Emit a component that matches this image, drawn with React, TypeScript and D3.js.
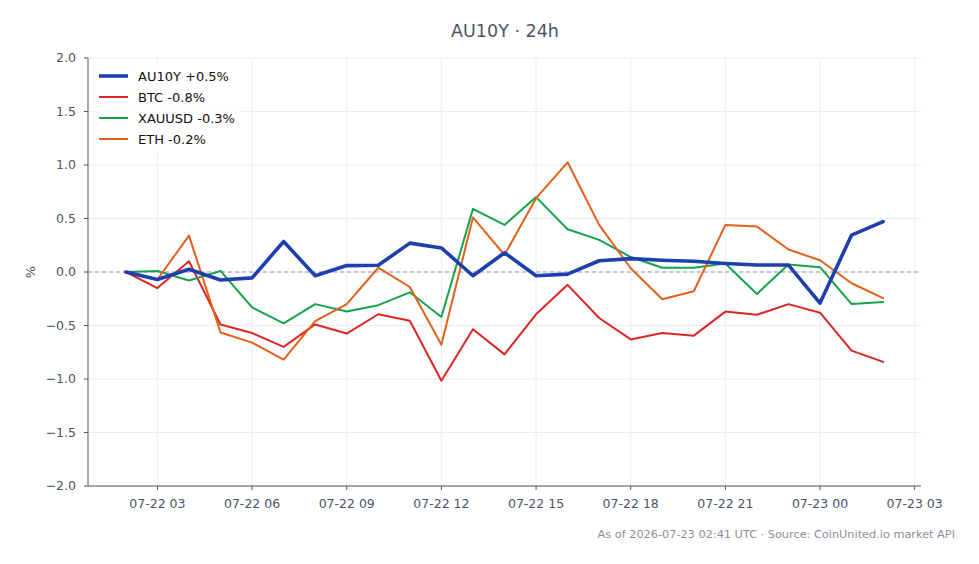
import React from "react";
import * as d3 from "d3";

const hours: string[] = [
  "2026-07-22T02:00", "2026-07-22T03:00", "2026-07-22T04:00", "2026-07-22T05:00", "2026-07-22T06:00",
  "2026-07-22T07:00", "2026-07-22T08:00", "2026-07-22T09:00", "2026-07-22T10:00", "2026-07-22T11:00",
  "2026-07-22T12:00", "2026-07-22T13:00", "2026-07-22T14:00", "2026-07-22T15:00", "2026-07-22T16:00",
  "2026-07-22T17:00", "2026-07-22T18:00", "2026-07-22T19:00", "2026-07-22T20:00", "2026-07-22T21:00",
  "2026-07-22T22:00", "2026-07-22T23:00", "2026-07-23T00:00", "2026-07-23T01:00", "2026-07-23T02:00",
];

const au10y: number[] = [0, -0.07, 0.025, -0.075, -0.055, 0.285, -0.035, 0.06, 0.063, 0.27, 0.225, -0.035, 0.18, -0.035, -0.02, 0.105, 0.125, 0.11, 0.1, 0.08, 0.065, 0.065, -0.29, 0.345, 0.47];
const btc: number[] = [0, -0.15, 0.1, -0.49, -0.57, -0.7, -0.49, -0.575, -0.395, -0.455, -1.016, -0.535, -0.77, -0.395, -0.12, -0.43, -0.63, -0.57, -0.595, -0.37, -0.4, -0.3, -0.38, -0.735, -0.84];
const xauusd: number[] = [0, 0.01, -0.08, 0.01, -0.33, -0.48, -0.3, -0.37, -0.31, -0.19, -0.42, 0.59, 0.44, 0.7, 0.4, 0.3, 0.14, 0.04, 0.04, 0.08, -0.205, 0.07, 0.045, -0.3, -0.28];
const eth: number[] = [0, -0.07, 0.34, -0.565, -0.66, -0.82, -0.46, -0.3, 0.04, -0.14, -0.68, 0.51, 0.16, 0.69, 1.025, 0.44, 0.035, -0.255, -0.18, 0.44, 0.425, 0.21, 0.11, -0.105, -0.245];

const seriesNames: string[] = ["AU10Y +0.5%", "BTC -0.8%", "XAUUSD -0.3%", "ETH -0.2%"];
const seriesColors: string[] = ["#1e40af", "#dc2626", "#16a34a", "#e2601a"];
const seriesWidths: number[] = [3.6, 2, 2, 2];
const yTicks: number[] = [-2, -1.5, -1, -0.5, 0, 0.5, 1, 1.5, 2];
const xTickLabels: string[] = [
  "2026-07-22T03:00", "2026-07-22T06:00", "2026-07-22T09:00", "2026-07-22T12:00",
  "2026-07-22T15:00", "2026-07-22T18:00", "2026-07-22T21:00", "2026-07-23T00:00", "2026-07-23T03:00",
];

const W = 979;
const H = 564;
const M = { left: 88, right: 921, top: 58, bottom: 486 };
const FONT = "'DejaVu Sans', sans-serif";
const TXT = "#4a5568";

export default function App() {
  const parse = (s: string) => new Date(s + ":00Z");
  const times = hours.map(parse);
  const t0 = times[0].getTime();
  const t1 = times[times.length - 1].getTime();
  const pad = (t1 - t0) * 0.05;
  const x = d3.scaleUtc().domain([new Date(t0 - pad), new Date(t1 + pad)]).range([M.left, M.right]);
  const y = d3.scaleLinear().domain([-2, 2]).range([M.bottom, M.top]);
  const data = [au10y, btc, xauusd, eth];
  const line = d3
    .line<number>()
    .x((_, i) => x(times[i]))
    .y((v) => y(v));
  const xt = xTickLabels.map(parse);
  const fmtX = d3.utcFormat("%m-%d %H");
  const fmtY = (v: number) => (v < 0 ? "\u2212" : "") + Math.abs(v).toFixed(1);
  const order = [1, 2, 3, 0];

  return (
    <svg width={W} height={H} style={{ position: "absolute", left: 0, top: 0, background: "#fff" }} fontFamily={FONT}>
      <rect width={W} height={H} fill="#fff" />
      <text x={505} y={37} textAnchor="middle" fontSize={17.5} fill={TXT}>AU10Y · 24h</text>
      {xt.map((t, i) => (
        <line key={"gx" + i} x1={x(t)} x2={x(t)} y1={M.top} y2={M.bottom} stroke="#e5e7eb" strokeWidth={0.8} />
      ))}
      {yTicks.map((v, i) => (
        <line key={"gy" + i} x1={M.left} x2={M.right} y1={y(v)} y2={y(v)} stroke="#e5e7eb" strokeWidth={0.8} />
      ))}
      <line x1={M.left} x2={M.right} y1={y(0)} y2={y(0)} stroke="#8a9bb8" strokeWidth={1} strokeDasharray="4,3" />
      {order.map((k) => (
        <path key={"s" + k} d={line(data[k]) || ""} fill="none" stroke={seriesColors[k]} strokeWidth={seriesWidths[k]} strokeLinejoin="round" strokeLinecap="round" />
      ))}
      <line x1={M.left} x2={M.left} y1={M.top} y2={M.bottom} stroke="#4a5568" strokeWidth={1} />
      <line x1={M.left} x2={M.right} y1={M.bottom} y2={M.bottom} stroke="#4a5568" strokeWidth={1} />
      {yTicks.map((v, i) => (
        <g key={"yt" + i}>
          <line x1={M.left - 4} x2={M.left} y1={y(v)} y2={y(v)} stroke="#4a5568" />
          <text x={M.left - 12} y={y(v)} dy="0.35em" textAnchor="end" fontSize={12.5} fill={TXT}>{fmtY(v)}</text>
        </g>
      ))}
      {xt.map((t, i) => (
        <g key={"xt" + i}>
          <line x1={x(t)} x2={x(t)} y1={M.bottom} y2={M.bottom + 4} stroke="#4a5568" />
          <text x={x(t)} y={M.bottom + 22} textAnchor="middle" fontSize={12.5} fill={TXT}>{fmtX(t)}</text>
        </g>
      ))}
      <text transform={`translate(35,${y(0)}) rotate(-90)`} textAnchor="middle" fontSize={13} fill={TXT}>%</text>
      <rect x={93} y={64} width={148} height={88} fill="#fff" opacity={0.8} />
      {seriesNames.map((n, i) => (
        <g key={"lg" + i}>
          <line x1={99} x2={128} y1={76 + i * 21} y2={76 + i * 21} stroke={seriesColors[i]} strokeWidth={seriesWidths[i]} />
          <text x={138} y={76 + i * 21} dy="0.35em" fontSize={13} fill="#111">{n}</text>
        </g>
      ))}
      <text x={955} y={538} textAnchor="end" fontSize={11.3} fill="#8a8f99">As of 2026-07-23 02:41 UTC · Source: CoinUnited.io market API</text>
    </svg>
  );
}
